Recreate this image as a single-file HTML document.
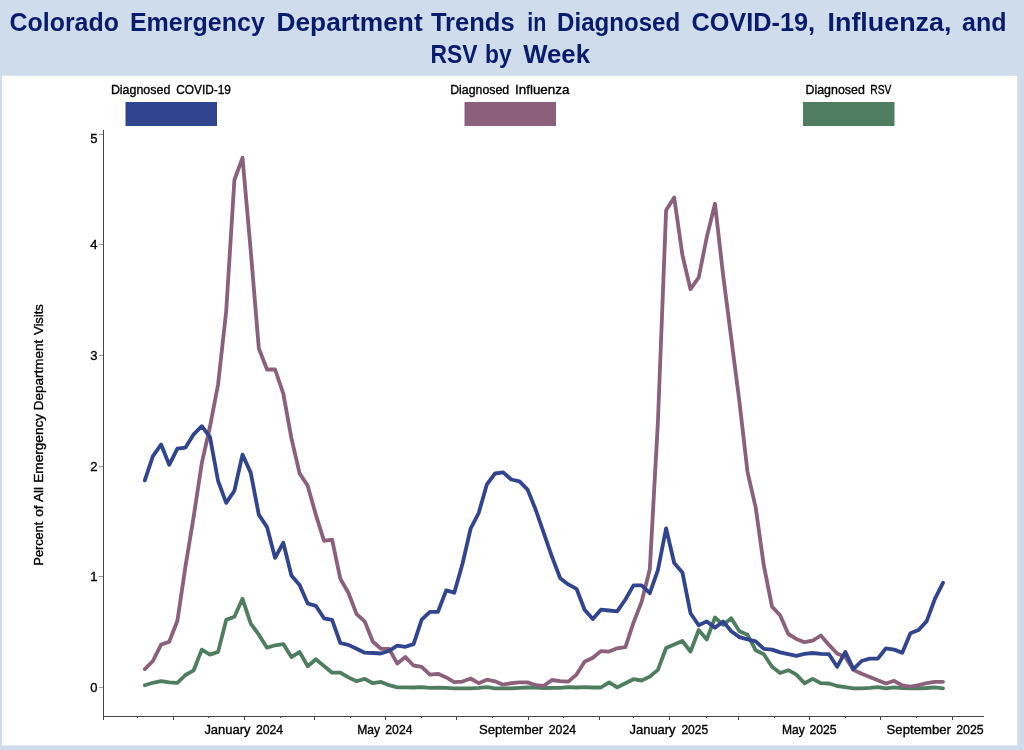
<!DOCTYPE html>
<html lang="en"><head><meta charset="utf-8"><title>Colorado Emergency Department Trends</title>
<style>
html,body{margin:0;padding:0;background:#cfdcec;}
body{width:1024px;height:750px;overflow:hidden;position:relative;font-family:"Liberation Sans",sans-serif;}
svg{position:absolute;left:0;top:0;display:block}
text{font-family:"Liberation Sans",sans-serif}
.t{font-weight:bold;font-size:26.5px;fill:#0a1b6c}
.s{font-size:13px;fill:#000;stroke:#000;stroke-width:0.35px}
</style></head><body>
<svg width="1024" height="750" viewBox="0 0 1024 750">
<rect x="0" y="0" width="1024" height="750" fill="#cfdcec"/>
<rect x="2" y="75.8" width="1015.2" height="669.5" fill="#ffffff"/>
<g class="t">
<text x="9.6" y="31.4" textLength="109.3" lengthAdjust="spacingAndGlyphs">Colorado</text><text x="129.9" y="31.4" textLength="135.0" lengthAdjust="spacingAndGlyphs">Emergency</text><text x="276.4" y="31.4" textLength="146.3" lengthAdjust="spacingAndGlyphs">Department</text><text x="430.9" y="31.4" textLength="83.7" lengthAdjust="spacingAndGlyphs">Trends</text><text x="527.3" y="31.4" textLength="19.1" lengthAdjust="spacingAndGlyphs">in</text><text x="557.1" y="31.4" textLength="123.0" lengthAdjust="spacingAndGlyphs">Diagnosed</text><text x="691.4" y="31.4" textLength="123.7" lengthAdjust="spacingAndGlyphs">COVID-19,</text><text x="827.5" y="31.4" textLength="123.9" lengthAdjust="spacingAndGlyphs">Influenza,</text><text x="962.1" y="31.4" textLength="44.4" lengthAdjust="spacingAndGlyphs">and</text><text x="430.5" y="63.3" textLength="47.0" lengthAdjust="spacingAndGlyphs">RSV</text><text x="485.1" y="63.3" textLength="26.6" lengthAdjust="spacingAndGlyphs">by</text><text x="523.2" y="63.3" textLength="66.8" lengthAdjust="spacingAndGlyphs">Week</text>
</g>
<g class="s">
<text x="110.9" y="94.0" textLength="59.4" lengthAdjust="spacingAndGlyphs">Diagnosed</text><text x="176.2" y="94.0" textLength="54.8" lengthAdjust="spacingAndGlyphs">COVID-19</text><text x="450.2" y="94.0" textLength="59.0" lengthAdjust="spacingAndGlyphs">Diagnosed</text><text x="515.0" y="94.0" textLength="54.4" lengthAdjust="spacingAndGlyphs">Influenza</text><text x="805.5" y="94.0" textLength="59.3" lengthAdjust="spacingAndGlyphs">Diagnosed</text><text x="870.3" y="94.0" textLength="21.1" lengthAdjust="spacingAndGlyphs">RSV</text>
</g>
<rect x="125.5" y="102" width="91.5" height="24" fill="#31448e"/>
<rect x="464.5" y="102" width="91.5" height="24" fill="#8a607a"/>
<rect x="803" y="102" width="91.5" height="24" fill="#4f7d60"/>
<g stroke="#444" stroke-width="1" shape-rendering="crispEdges">
<line x1="103.5" y1="130" x2="103.5" y2="716.5"/>
<line x1="103" y1="716.5" x2="984" y2="716.5"/>
<line x1="103.5" y1="716" x2="103.5" y2="719.6"/><line x1="173.5" y1="716" x2="173.5" y2="719.6"/><line x1="244.5" y1="716" x2="244.5" y2="719.6"/><line x1="314.5" y1="716" x2="314.5" y2="719.6"/><line x1="385.5" y1="716" x2="385.5" y2="719.6"/><line x1="456.5" y1="716" x2="456.5" y2="719.6"/><line x1="528.5" y1="716" x2="528.5" y2="719.6"/><line x1="599.5" y1="716" x2="599.5" y2="719.6"/><line x1="669.5" y1="716" x2="669.5" y2="719.6"/><line x1="738.5" y1="716" x2="738.5" y2="719.6"/><line x1="809.5" y1="716" x2="809.5" y2="719.6"/><line x1="880.5" y1="716" x2="880.5" y2="719.6"/><line x1="952.5" y1="716" x2="952.5" y2="719.6"/><line x1="137.5" y1="716" x2="137.5" y2="718"/><line x1="208.5" y1="716" x2="208.5" y2="718"/><line x1="280.5" y1="716" x2="280.5" y2="718"/><line x1="350.5" y1="716" x2="350.5" y2="718"/><line x1="421.5" y1="716" x2="421.5" y2="718"/><line x1="492.5" y1="716" x2="492.5" y2="718"/><line x1="563.5" y1="716" x2="563.5" y2="718"/><line x1="633.5" y1="716" x2="633.5" y2="718"/><line x1="706.5" y1="716" x2="706.5" y2="718"/><line x1="774.5" y1="716" x2="774.5" y2="718"/><line x1="845.5" y1="716" x2="845.5" y2="718"/><line x1="916.5" y1="716" x2="916.5" y2="718"/>
</g>
<g stroke="#999" stroke-width="1" shape-rendering="crispEdges"><line x1="99" y1="687.5" x2="103" y2="687.5"/><line x1="99" y1="576.5" x2="103" y2="576.5"/><line x1="99" y1="466.5" x2="103" y2="466.5"/><line x1="99" y1="355.5" x2="103" y2="355.5"/><line x1="99" y1="244.5" x2="103" y2="244.5"/><line x1="99" y1="134.5" x2="103" y2="134.5"/></g>
<g class="s"><text x="97.6" y="692.1" text-anchor="end">0</text><text x="97.6" y="581.4" text-anchor="end">1</text><text x="97.6" y="470.7" text-anchor="end">2</text><text x="97.6" y="360.0" text-anchor="end">3</text><text x="97.6" y="249.3" text-anchor="end">4</text><text x="97.6" y="142.6" text-anchor="end">5</text>
<text x="204.4" y="734.0" textLength="46.1" lengthAdjust="spacingAndGlyphs">January</text><text x="255.9" y="734.0" textLength="27.3" lengthAdjust="spacingAndGlyphs">2024</text><text x="357.2" y="734.0" textLength="22.8" lengthAdjust="spacingAndGlyphs">May</text><text x="385.3" y="734.0" textLength="27.2" lengthAdjust="spacingAndGlyphs">2024</text><text x="479.0" y="734.0" textLength="64.1" lengthAdjust="spacingAndGlyphs">September</text><text x="548.8" y="734.0" textLength="27.2" lengthAdjust="spacingAndGlyphs">2024</text><text x="629.5" y="734.0" textLength="46.1" lengthAdjust="spacingAndGlyphs">January</text><text x="681.4" y="734.0" textLength="26.9" lengthAdjust="spacingAndGlyphs">2025</text><text x="781.9" y="734.0" textLength="22.8" lengthAdjust="spacingAndGlyphs">May</text><text x="809.4" y="734.0" textLength="27.2" lengthAdjust="spacingAndGlyphs">2025</text><text x="886.6" y="734.0" textLength="64.3" lengthAdjust="spacingAndGlyphs">September</text><text x="956.2" y="734.0" textLength="27.5" lengthAdjust="spacingAndGlyphs">2025</text>
<g transform="translate(43.4,0) rotate(-90)"><text x="-565.6" y="0.0" textLength="43.8" lengthAdjust="spacingAndGlyphs">Percent</text><text x="-516.8" y="0.0" textLength="11.4" lengthAdjust="spacingAndGlyphs">of</text><text x="-502.0" y="0.0" textLength="15.1" lengthAdjust="spacingAndGlyphs">All</text><text x="-482.8" y="0.0" textLength="68.9" lengthAdjust="spacingAndGlyphs">Emergency</text><text x="-410.3" y="0.0" textLength="70.5" lengthAdjust="spacingAndGlyphs">Department</text><text x="-335.1" y="0.0" textLength="31.0" lengthAdjust="spacingAndGlyphs">Visits</text></g>
</g>
<g fill="none" stroke-width="3.8" stroke-linejoin="round" stroke-linecap="round">
<polyline stroke="#4f7d60" points="144.8,685.2 152.9,682.8 161.1,681.1 169.2,682.4 177.4,682.8 185.5,675.0 193.7,670.3 201.8,649.6 210.0,654.6 218.1,651.9 226.2,619.9 234.4,616.8 242.5,598.8 250.7,623.5 258.8,634.7 267.0,647.7 275.1,645.3 283.3,644.1 291.4,657.1 299.6,651.9 307.7,666.3 315.8,659.2 324.0,666.0 332.1,672.7 340.3,672.7 348.4,677.4 356.6,681.3 364.7,678.9 372.9,683.2 381.0,681.9 389.1,685.2 397.3,687.4 405.4,687.4 413.6,687.5 421.7,687.1 429.9,687.8 438.0,687.7 446.2,687.8 454.3,688.3 462.5,688.3 470.6,688.3 478.7,687.8 486.9,687.1 495.0,688.3 503.2,688.3 511.3,688.3 519.5,687.8 527.6,687.5 535.8,687.7 543.9,688.0 552.0,687.8 560.2,687.8 568.3,687.1 576.5,687.5 584.6,687.1 592.8,687.5 600.9,687.5 609.1,682.4 617.2,687.4 625.4,683.2 633.5,679.2 641.6,680.5 649.8,676.6 657.9,669.9 666.1,648.0 674.2,644.6 682.4,641.0 690.5,651.6 698.7,630.0 706.8,639.4 715.0,617.5 723.1,624.9 731.2,618.3 739.4,631.3 747.5,634.7 755.7,650.3 763.8,654.2 772.0,666.8 780.1,673.0 788.3,670.2 796.4,674.6 804.5,683.2 812.7,678.9 820.8,683.2 829.0,683.5 837.1,686.0 845.3,687.1 853.4,688.3 861.6,688.3 869.7,687.8 877.8,687.1 886.0,688.3 894.1,687.4 902.3,688.2 910.4,688.3 918.6,688.3 926.7,688.0 934.9,687.4 943.0,688.3"/>
<polyline stroke="#8a607a" points="144.8,669.1 152.9,661.0 161.1,644.6 169.2,641.8 177.4,620.7 185.5,566.3 193.7,516.5 201.8,463.2 210.0,426.5 218.1,384.3 226.2,311.1 234.4,180.0 242.5,157.8 250.7,250.3 258.8,348.2 267.0,369.5 275.1,369.5 283.3,393.7 291.4,438.2 299.6,473.4 307.7,485.7 315.8,514.6 324.0,540.8 332.1,539.6 340.3,578.7 348.4,592.7 356.6,614.1 364.7,621.4 372.9,641.8 381.0,648.8 389.1,648.8 397.3,663.6 405.4,657.1 413.6,665.5 421.7,666.8 429.9,674.6 438.0,673.8 446.2,677.4 454.3,682.1 462.5,681.6 470.6,678.5 478.7,683.2 486.9,679.7 495.0,681.3 503.2,684.7 511.3,683.2 519.5,682.4 527.6,682.4 535.8,685.2 543.9,685.8 552.0,680.0 560.2,681.1 568.3,681.6 576.5,674.6 584.6,661.8 592.8,657.8 600.9,651.1 609.1,651.6 617.2,648.3 625.4,647.2 633.5,622.7 641.6,601.9 649.8,569.3 657.9,422.0 666.1,210.2 674.2,197.5 682.4,255.0 690.5,289.2 698.7,277.5 706.8,237.0 715.0,203.8 723.1,275.0 731.2,338.0 739.4,401.5 747.5,471.8 755.7,507.6 763.8,565.4 772.0,606.6 780.1,615.2 788.3,634.0 796.4,638.9 804.5,642.2 812.7,640.7 820.8,635.5 829.0,644.9 837.1,653.5 845.3,657.1 853.4,669.9 861.6,673.8 869.7,676.9 877.8,680.3 886.0,683.5 894.1,680.8 902.3,685.5 910.4,686.6 918.6,685.2 926.7,683.2 934.9,681.9 943.0,681.8"/>
<polyline stroke="#31448e" points="144.8,480.4 152.9,456.2 161.1,444.5 169.2,464.8 177.4,448.7 185.5,447.6 193.7,434.3 201.8,426.2 210.0,437.1 218.1,481.0 226.2,502.9 234.4,490.7 242.5,454.6 250.7,472.6 258.8,514.6 267.0,527.1 275.1,557.9 283.3,542.7 291.4,575.5 299.6,584.9 307.7,603.5 315.8,605.8 324.0,618.3 332.1,619.9 340.3,643.0 348.4,644.9 356.6,648.8 364.7,652.7 372.9,653.0 381.0,653.5 389.1,650.8 397.3,645.7 405.4,646.8 413.6,644.1 421.7,619.6 429.9,611.8 438.0,611.8 446.2,590.4 454.3,592.7 462.5,563.8 470.6,528.7 478.7,513.0 486.9,484.3 495.0,473.5 503.2,472.3 511.3,479.5 519.5,481.3 527.6,489.6 535.8,510.0 543.9,533.3 552.0,556.8 560.2,578.2 568.3,584.4 576.5,588.8 584.6,609.7 592.8,619.1 600.9,609.7 609.1,610.5 617.2,611.3 625.4,599.5 633.5,585.4 641.6,585.4 649.8,593.2 657.9,570.1 666.1,528.3 674.2,563.0 682.4,572.4 690.5,613.2 698.7,625.3 706.8,621.4 715.0,627.7 723.1,621.4 731.2,631.3 739.4,637.1 747.5,639.4 755.7,641.4 763.8,648.8 772.0,649.6 780.1,652.4 788.3,654.2 796.4,655.8 804.5,653.9 812.7,653.0 820.8,653.8 829.0,654.2 837.1,666.8 845.3,651.9 853.4,669.1 861.6,661.0 869.7,658.6 877.8,658.6 886.0,648.3 894.1,649.6 902.3,652.7 910.4,633.2 918.6,630.0 926.7,621.1 934.9,598.8 943.0,582.8"/>
</g>
</svg>
</body></html>
